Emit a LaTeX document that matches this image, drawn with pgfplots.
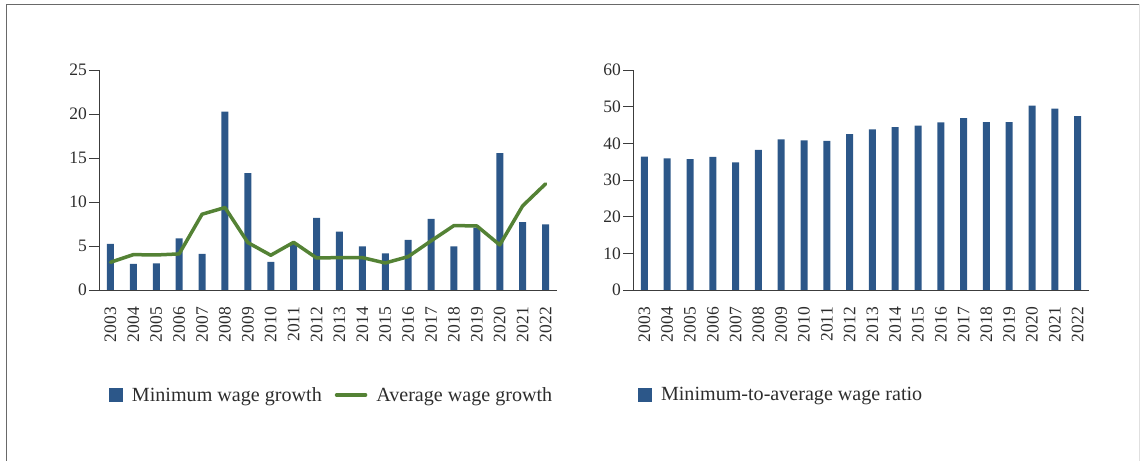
\documentclass[border=0pt]{standalone}
\usepackage{fontspec}
\setmainfont{Liberation Serif}
\usepackage{pgfplots}
\usepackage{pgfplotstable}
\pgfplotsset{compat=1.18}
\definecolor{barblue}{RGB}{44,87,137}
\definecolor{lgreen}{RGB}{84,130,53}
\definecolor{txt}{RGB}{45,45,45}
\definecolor{axc}{RGB}{60,60,60}
\definecolor{framec}{RGB}{105,105,105}

\pgfplotstableread{
x year minw avgw ratio
0 2003 5.24 3.15 36.4
1 2004 2.96 4.02 35.9
2 2005 3.03 3.98 35.7
3 2006 5.88 4.10 36.3
4 2007 4.10 8.61 34.8
5 2008 20.26 9.37 38.2
6 2009 13.28 5.39 41.1
7 2010 3.19 3.95 40.8
8 2011 5.20 5.42 40.7
9 2012 8.19 3.64 42.5
10 2013 6.64 3.68 43.8
11 2014 4.97 3.68 44.4
12 2015 4.17 3.07 44.8
13 2016 5.69 3.79 45.7
14 2017 8.08 5.58 46.9
15 2018 4.97 7.32 45.8
16 2019 7.10 7.28 45.8
17 2020 15.55 5.12 50.3
18 2021 7.70 9.56 49.5
19 2022 7.47 12.06 47.4
}\datatable

\pgfplotsset{
  common/.style={
    scale only axis,
    anchor=south west,
    axis x line*=bottom, axis y line*=left,
    axis line style={-, draw=axc, line width=0.9bp},
    tick align=outside,
    major tick length=10bp,
    minor tick length=8bp,
    tick style={draw=axc, line width=0.9bp},
    xmin=-0.5, xmax=19.5,
    xtick={0,...,19},
    xticklabels={2003,2004,2005,2006,2007,2008,2009,2010,2011,2012,2013,2014,2015,2016,2017,2018,2019,2020,2021,2022},
    minor xtick={-0.5,0.5,...,19.5},
    xtick style={draw=none},
    xticklabel shift=7bp,
    xticklabel style={rotate=90, anchor=east, inner sep=0pt, font=\fontsize{17.5bp}{19bp}\selectfont, text=txt},
    yticklabel style={font=\fontsize{17.5bp}{19bp}\selectfont, text=txt, inner sep=2bp},
    /pgf/number format/assume math mode=true,
    legend style={draw=none, fill=none, inner sep=0pt, outer sep=0pt,
      nodes={inner sep=0pt, text=txt, font=\fontsize{20.1bp}{22bp}\selectfont},
      /tikz/every odd column/.append style={column sep=9bp},
      /tikz/every even column/.append style={column sep=13bp},
      anchor=west},
    legend columns=-1,
    legend cell align=left,
  }
}

\begin{document}
\begin{tikzpicture}
\useasboundingbox (0,0) rectangle (1140bp,461bp);
\draw[framec, line width=1.5bp] (6.5bp,0bp) -- (6.5bp,456.5bp) -- (1140bp,456.5bp);
\draw[black!12, line width=1bp] (1139.5bp,0bp) -- (1139.5bp,456.5bp);

\begin{axis}[common, at={(99bp,171bp)}, width=458bp, height=220bp,
  ymin=0, ymax=25, ytick={0,5,...,25},
  legend style={at={(0.0218,-0.477)}}]
\addplot[ybar, bar width=7bp, fill=barblue, draw=none,
  legend image code/.code={\fill[barblue] (0bp,-7bp) rectangle (14bp,7bp);}]
  table[x=x, y=minw] {\datatable};
\addlegendentry{Minimum wage growth}
\addplot[lgreen, line width=3.5bp, line join=round, line cap=round, mark=none,
  legend image code/.code={\draw[lgreen, line width=3.5bp, line cap=round] (1bp,0bp) -- (30bp,0bp);}]
  table[x=x, y=avgw] {\datatable};
\addlegendentry{Average wage growth}
\end{axis}

\begin{axis}[common, at={(633bp,171bp)}, width=456bp, height=220bp,
  ymin=0, ymax=60, ytick={0,10,...,60},
  legend style={at={(0.011,-0.477)}}]
\addplot[ybar, bar width=7bp, fill=barblue, draw=none,
  legend image code/.code={\fill[barblue] (0bp,-7bp) rectangle (14bp,7bp);}]
  table[x=x, y=ratio] {\datatable};
\addlegendentry{Minimum-to-average wage ratio}
\end{axis}
\end{tikzpicture}
\end{document}
